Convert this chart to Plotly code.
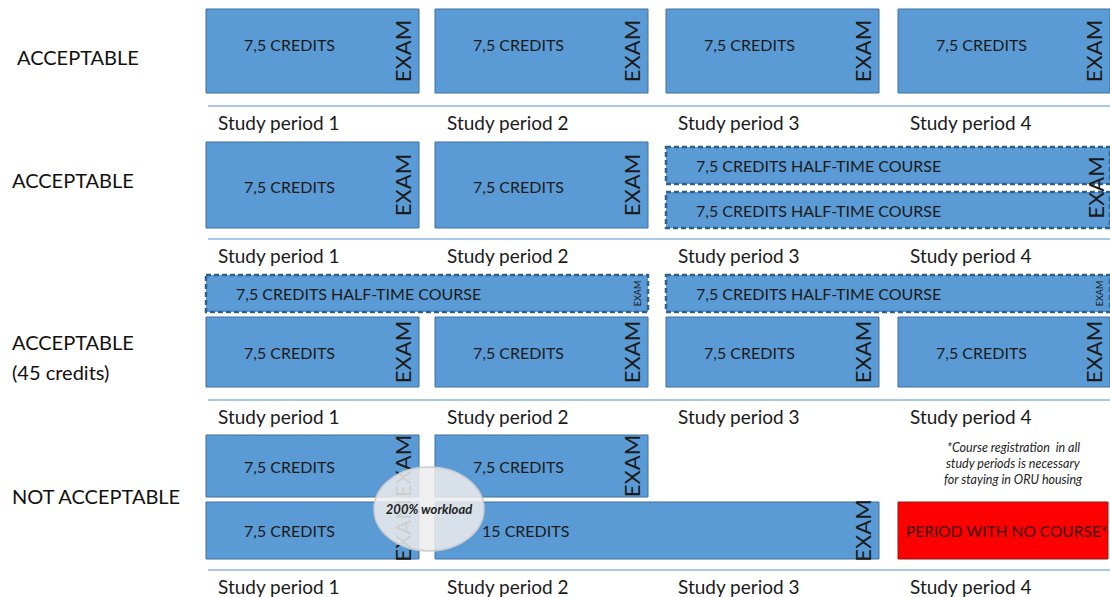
import plotly.graph_objects as go

# ---------------- data ----------------
periods = ["Study period 1", "Study period 2", "Study period 3", "Study period 4"]
scenario_lines = [["ACCEPTABLE"], ["ACCEPTABLE"], ["ACCEPTABLE", "(45 credits)"], ["NOT ACCEPTABLE"]]

HALF = "7,5 CREDITS HALF-TIME COURSE"
C75 = "7,5 CREDITS"
block_scenario = [0, 0, 0, 0, 1, 1, 1, 1, 2, 2, 2, 2, 2, 2, 3, 3, 3, 3, 3]
block_text = [C75, C75, C75, C75,
              C75, C75, HALF, HALF,
              HALF, HALF, C75, C75, C75, C75,
              C75, C75, C75, "15 CREDITS", "PERIOD WITH NO COURSE*"]
block_first = [1, 2, 3, 4, 1, 2, 3, 3, 1, 3, 1, 2, 3, 4, 1, 2, 1, 2, 4]
block_last = [1, 2, 3, 4, 1, 2, 4, 4, 2, 4, 1, 2, 3, 4, 1, 2, 1, 3, 4]
block_lane = ["full"] * 4 + ["full", "full", "top", "bottom"] + \
             ["top", "top", "full", "full", "full", "full"] + \
             ["top", "top", "bottom", "bottom", "bottom"]
block_kind = ["course"] * 4 + ["course", "course", "half", "half"] + \
             ["half", "half", "course", "course", "course", "course"] + \
             ["course", "course", "course", "course", "gap"]
block_exam = ["big"] * 4 + ["big", "big", "shared", "none"] + \
             ["small", "small", "big", "big", "big", "big"] + \
             ["big", "big", "big", "big", "none"]

note_lines = ["*Course registration  in all", "study periods is necessary", "for staying in ORU housing"]
workload_label = "200% workload"
exam_label = "EXAM"

# ---------------- geometry / style ----------------
W, H = 1110, 597
col_left = [206, 435, 666, 898]
col_right = [419, 648, 879, 1110]
lanes = {
    0: {"full": (9, 93)},
    1: {"full": (142, 228), "top": (147, 184), "bottom": (192, 228)},
    2: {"top": (275, 312), "full": (317, 387)},
    3: {"top": (435, 497), "bottom": (502, 559)},
}
text_dy = {0: -7, 1: 1, 2: 0, 3: 0}
rule_y = [106, 239, 400, 570]
scen_label_x = [15, 10, 10, 10]
scen_label_y = [57, 180, 357, 496]
text_offset = {"7,5 CREDITS": 35, HALF: 27, "15 CREDITS": 44, "PERIOD WITH NO COURSE*": 5}
text_size = {"7,5 CREDITS": 16, HALF: 16, "15 CREDITS": 16, "PERIOD WITH NO COURSE*": 15.5}

FONT = "Lato, Carlito, 'Liberation Sans', sans-serif"
BLUE = "#5B9BD5"
BLUE_EDGE = "#41719C"
DASH_EDGE = "#2F5F8F"
TXT = "#1a1a1a"

fig = go.Figure()
box_shapes = []
label_shapes = []
annotations = []
exam_marks = {"big": {"x": [], "base": [], "h": []}, "small": {"x": [], "base": [], "h": []}}


def label_rect(x0, x1, y0, y1, text, size, pos="middle left", color=TXT):
    label_shapes.append(dict(type="rect", xref="x", yref="y", x0=x0, x1=x1, y0=y0, y1=y1,
                             line=dict(width=0), fillcolor="rgba(0,0,0,0)", layer="below",
                             label=dict(text=text, textposition=pos, padding=0,
                                        font=dict(family=FONT, size=size, color=color))))


def add_exam(kind, cx, y0, y1):
    exam_marks[kind]["x"].append(cx)
    exam_marks[kind]["base"].append(y0)
    exam_marks[kind]["h"].append(y1 - y0)


for i, s in enumerate(block_scenario):
    x0 = col_left[block_first[i] - 1]
    x1 = col_right[block_last[i] - 1]
    y0, y1 = lanes[s][block_lane[i]]
    kind = block_kind[i]
    if kind == "course":
        line = dict(color=BLUE_EDGE, width=1)
        fill = BLUE
    elif kind == "half":
        line = dict(color=DASH_EDGE, width=2.5, dash="5px,3px")
        fill = BLUE
    else:
        line = dict(color="#8B1A1A", width=1)
        fill = "#FF0000"
        x1 = x1 - 2
    box_shapes.append(dict(type="rect", xref="x", yref="y", x0=x0, x1=x1, y0=y0, y1=y1,
                           line=line, fillcolor=fill, layer="below"))
    dy = text_dy[s] if kind == "course" else 0
    tcol = "#3a0000" if kind == "gap" else TXT
    label_rect(x0 + text_offset[block_text[i]], x1, y0 + dy, y1 + dy, block_text[i],
               text_size[block_text[i]], color=tcol)
    ex = block_exam[i]
    if ex == "big":
        add_exam("big", x1 - 17, y0, y1)
    elif ex == "small":
        add_exam("small", x1 - 11, y0, y1)
    elif ex == "shared":
        add_exam("big", x1 - 15, lanes[s]["top"][0], lanes[s]["bottom"][1])

# EXAM marks: transparent bars carrying rotated text (drawn below the ellipse)
for kind, size, width in (("big", 22, 40), ("small", 9, 18)):
    m = exam_marks[kind]
    fig.add_trace(go.Bar(
        x=m["x"], y=m["h"], base=m["base"], width=[width] * len(m["x"]),
        marker=dict(color="rgba(0,0,0,0)", line=dict(width=0)),
        text=[exam_label] * len(m["x"]), textposition="inside", textangle=-90,
        insidetextanchor="middle", constraintext="none", cliponaxis=False,
        textfont=dict(family=FONT, size=size, color=TXT),
        hoverinfo="skip", showlegend=False))

# separators and period labels
for r, y in enumerate(rule_y):
    box_shapes.append(dict(type="line", xref="x", yref="y", x0=col_left[0] + 2, x1=W, y0=y, y1=y,
                           line=dict(color="#A9C9E8", width=2), layer="below"))
    for p, name in enumerate(periods):
        annotations.append(dict(x=col_left[p] + 10, y=y + 16, xref="x", yref="y", text=name,
                                showarrow=False, xanchor="left", yanchor="middle",
                                font=dict(family=FONT, size=19, color=TXT)))

# scenario labels
for s, lines in enumerate(scenario_lines):
    n = len(lines)
    for k, t in enumerate(lines):
        annotations.append(dict(x=scen_label_x[s], y=scen_label_y[s] + (k - (n - 1) / 2) * 30,
                                xref="x", yref="y", text=t, showarrow=False,
                                xanchor="left", yanchor="middle",
                                font=dict(family=FONT, size=20, color="#111111")))

# note
for k, t in enumerate(note_lines):
    annotations.append(dict(x=col_left[3] + 115, y=447 + k * 16, xref="x", yref="y",
                            text="<i>" + t + "</i>", showarrow=False, xanchor="center",
                            yanchor="middle", font=dict(family=FONT, size=12.5, color="#222222")))

# workload ellipse (above the traces)
ecx = (col_right[0] + col_left[1]) / 2 + 2
ecy = 509
ellipse = dict(type="circle", xref="x", yref="y", x0=ecx - 55, x1=ecx + 55, y0=ecy - 42, y1=ecy + 42,
               line=dict(color="#C9CCD0", width=1.5), fillcolor="rgba(236,236,236,0.86)", layer="above",
               label=dict(text="<b><i>" + workload_label + "</i></b>", textposition="middle center",
                          padding=0, font=dict(family=FONT, size=13, color="#222222")))

fig.update_layout(
    width=W, height=H, margin=dict(l=0, r=0, t=0, b=0),
    paper_bgcolor="white", plot_bgcolor="rgba(0,0,0,0)", barmode="overlay",
    xaxis=dict(range=[0, W], visible=False, fixedrange=True),
    yaxis=dict(range=[H, 0], visible=False, fixedrange=True),
    shapes=box_shapes + label_shapes + [ellipse], annotations=annotations, showlegend=False,
)

fig.write_html("out.html", config={"displayModeBar": False},
               post_script="document.body.style.margin='0';document.body.style.overflow='hidden';")
